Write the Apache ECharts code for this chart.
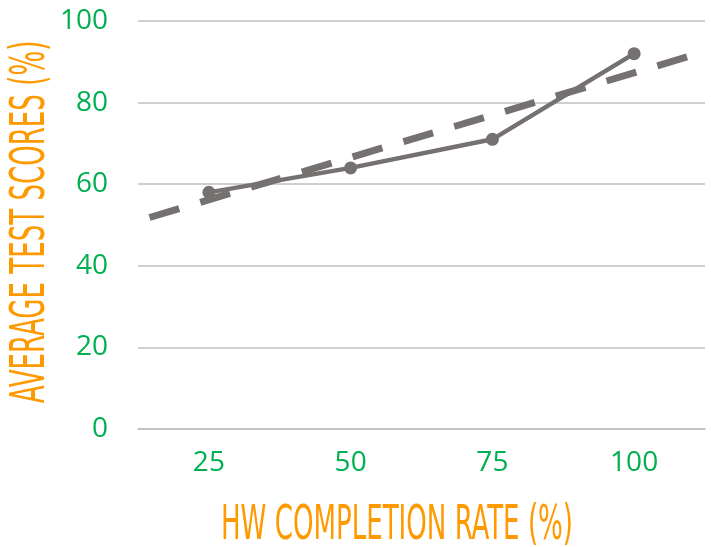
<!DOCTYPE html>
<html>
<head>
<meta charset="utf-8">
<script src="https://cdn.jsdelivr.net/npm/echarts@6/dist/echarts.min.js"></script>
<style>html,body{margin:0;padding:0;background:#fff;}#c{width:711px;height:547px;}</style>
</head>
<body>
<div id="c"></div>
<script>
var categories = ['25', '50', '75', '100'];
var scores = [58, 64, 71, 92];
var trendX = [0.5, 4.5];
var trendY = [51, 92.5];
var yTicks = [0, 20, 40, 60, 80, 100];
var xTitle = 'HW COMPLETION RATE (%)';
var yTitle = 'AVERAGE TEST SCORES (%)';

var chart = echarts.init(document.getElementById('c'), null, {renderer: 'canvas'});
var grey = '#767171';
var green = '#00b050';
var orange = '#ff9900';
var titleFont = "29px 'Liberation Sans Narrow', 'DejaVu Sans Condensed', sans-serif";

chart.setOption({
  animation: false,
  grid: {left: 138, right: 6, top: 21, bottom: 118},
  xAxis: [{
    type: 'category',
    data: categories,
    boundaryGap: true,
    axisLine: {show: true, lineStyle: {color: '#bfbfbf', width: 1.5}},
    axisTick: {show: false},
    axisLabel: {color: green, fontSize: 28, fontFamily: 'Open Sans', margin: 20}
  }, {
    type: 'value',
    min: trendX[0],
    max: trendX[1],
    show: false
  }],
  yAxis: {
    type: 'value',
    min: yTicks[0],
    max: yTicks[yTicks.length - 1],
    interval: yTicks[1] - yTicks[0],
    axisLine: {show: false},
    axisTick: {show: false},
    splitLine: {lineStyle: {color: '#bfbfbf', width: 1.5}},
    axisLabel: {color: green, fontSize: 28, fontFamily: 'Open Sans', margin: 30}
  },
  series: [{
    type: 'line',
    xAxisIndex: 1,
    data: trendX.map(function (x, i) { return [x, trendY[i]]; }),
    symbol: 'none',
    lineStyle: {color: grey, width: 7, type: [31, 22], dashOffset: 41, cap: 'butt'},
    z: 2
  }, {
    type: 'line',
    xAxisIndex: 0,
    data: scores,
    symbol: 'circle',
    symbolSize: 13,
    itemStyle: {color: grey},
    lineStyle: {color: grey, width: 4.5},
    z: 3
  }],
  graphic: [{
    type: 'text',
    x: 397, y: 527,
    scaleY: 1.65,
    style: {text: xTitle, font: titleFont, fill: orange, align: 'center', verticalAlign: 'middle'}
  }, {
    type: 'text',
    x: 32, y: 222,
    rotation: Math.PI / 2,
    scaleY: 1.65,
    style: {text: yTitle, font: titleFont, fill: orange, align: 'center', verticalAlign: 'middle'}
  }]
});
</script>
</body>
</html>
